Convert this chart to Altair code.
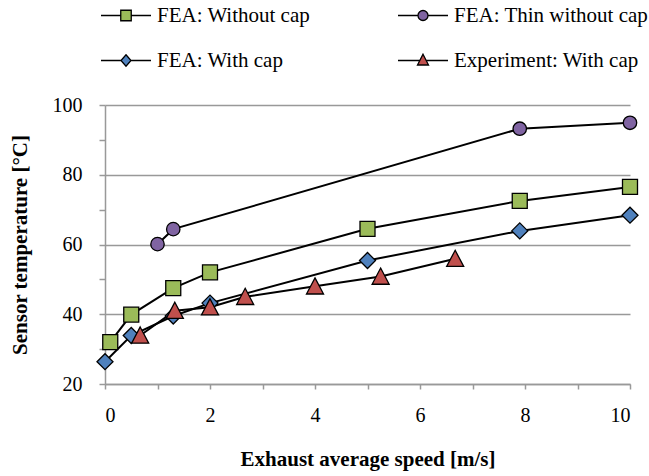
import altair as alt
import pandas as pd

series_names = ["FEA: Without cap", "FEA: Thin without cap", "FEA: With cap", "Experiment: With cap"]
colors = ["#9BBB59", "#8064A2", "#4F81BD", "#C0504D"]

wo_x = [0.1, 0.5, 1.3, 2.0, 5.0, 7.9, 10.0]
wo_y = [32.0, 39.9, 47.5, 52.0, 64.5, 72.5, 76.5]
thin_x = [1.0, 1.3, 7.9, 10.0]
thin_y = [60.1, 64.4, 93.2, 94.9]
cap_x = [0.0, 0.5, 1.3, 2.0, 5.0, 7.9, 10.0]
cap_y = [26.4, 33.9, 39.5, 43.2, 55.4, 63.9, 68.4]
exp_x = [0.67, 1.33, 2.0, 2.67, 4.0, 5.25, 6.67]
exp_y = [33.9, 41.0, 42.0, 45.0, 48.0, 50.8, 55.9]

# marker styles per series
point_shapes = ["square", "circle", "diamond", "M0,-1L1,0.9L-1,0.9Z"]
point_sizes = [225, 180, 256, 290]
legend_shapes = [
    "M-1,0L-0.21,0M0.21,0L1,0M-0.21,-0.21L0.21,-0.21L0.21,0.21L-0.21,0.21Z",
    "M-1,0L-0.2,0M0.2,0L1,0M0.2,0A0.2,0.2,0,1,1,-0.2,0A0.2,0.2,0,1,1,0.2,0Z",
    "M-1,0L-0.2,0M0.2,0L1,0M0,-0.23L0.2,0L0,0.23L-0.2,0Z",
    "M-1,0L-0.13,0M0.13,0L1,0M0,-0.25L0.22,0.18L-0.22,0.18Z",
]

rows = []
for i, (name, xs, ys) in enumerate(zip(series_names, [wo_x, thin_x, cap_x, exp_x], [wo_y, thin_y, cap_y, exp_y])):
    for a, b in zip(xs, ys):
        rows.append({"series": name, "speed": a, "temp": b,
                     "pshape": point_shapes[i], "pfill": colors[i], "psize": point_sizes[i]})
df = pd.DataFrame(rows)

# legend is filled column by column: reorder so rows read as in the reference
leg_idx = [0, 2, 1, 3]
leg_domain = [series_names[i] for i in leg_idx]
leg_colors = [colors[i] for i in leg_idx]
leg_shapes = [legend_shapes[i] for i in leg_idx]

FONT = "Liberation Serif, DejaVu Serif, serif"

x_enc = alt.X(
    "speed:Q",
    scale=alt.Scale(domain=[0, 10], nice=False),
    axis=alt.Axis(
        title="Exhaust average speed [m/s]",
        values=list(range(0, 11)),
        labelExpr="datum.value % 2 == 0 ? datum.label : ''",
        grid=False,
        domainColor="#999999",
        domainWidth=1.5,
        tickColor="#999999",
        tickWidth=1.5,
        tickSize=5,
        labelPadding=16,
        labelFont=FONT,
        labelFontSize=20,
        labelColor="black",
        titleFont=FONT,
        titleFontSize=21,
        titleFontWeight="bold",
        titleColor="black",
        titlePadding=23,
    ),
)
y_enc = alt.Y(
    "temp:Q",
    scale=alt.Scale(domain=[20, 100], nice=False),
    axis=alt.Axis(
        title="Sensor temperature [°C]",
        values=list(range(20, 101, 10)),
        labelExpr="datum.value % 20 == 0 ? datum.label : ''",
        grid=True,
        gridColor="#999999",
        gridWidth=1.5,
        gridOpacity={"condition": {"test": "datum.value % 20 == 0", "value": 1}, "value": 0},
        domainColor="#999999",
        domainWidth=1.5,
        tickColor="#999999",
        tickWidth=1.5,
        tickSize=6,
        labelPadding=17,
        labelFont=FONT,
        labelFontSize=20,
        labelColor="black",
        titleFont=FONT,
        titleFontSize=21,
        titleFontWeight="bold",
        titleColor="black",
        titlePadding=22,
    ),
)

base = alt.Chart(df)

lines = base.mark_line(color="black", strokeWidth=2).encode(
    x=x_enc, y=y_enc, detail="series:N"
)

points = base.mark_point(filled=True, opacity=1, stroke="black", strokeWidth=1.3).encode(
    x=x_enc,
    y=y_enc,
    shape=alt.Shape("pshape:N", scale=None),
    fill=alt.Fill("pfill:N", scale=None),
    size=alt.Size("psize:Q", scale=None),
)

leg = alt.Legend(
    title=None,
    orient="none",
    direction="vertical",
    legendX=-5,
    legendY=-102,
    columns=2,
    columnPadding=86,
    rowPadding=20,
    clipHeight=25,
    padding=0,
    symbolSize=2500,
    symbolStrokeColor="black",
    symbolStrokeWidth=1.3,
    labelFont=FONT,
    labelFontSize=21,
    labelColor="black",
    labelOffset=5,
    labelLimit=400,
)

legend_layer = (
    base.transform_filter("false")
    .mark_point(filled=True, opacity=1, stroke="black", strokeWidth=1.3)
    .encode(
        x=x_enc,
        y=y_enc,
        shape=alt.Shape("series:N", scale=alt.Scale(domain=leg_domain, range=leg_shapes), legend=leg),
        fill=alt.Fill("series:N", scale=alt.Scale(domain=leg_domain, range=leg_colors), legend=leg),
    )
)

chart = (
    alt.layer(lines, points, legend_layer)
    .properties(
        width=525,
        height=279,
        autosize=alt.AutoSizeParams(type="none"),
        padding={"left": 105, "top": 105, "right": 19, "bottom": 92},
        background="white",
    )
    .configure(font=FONT)
    .configure_view(stroke=None)
)

chart.save("out.html", embed_options={"renderer": "svg", "actions": False})
